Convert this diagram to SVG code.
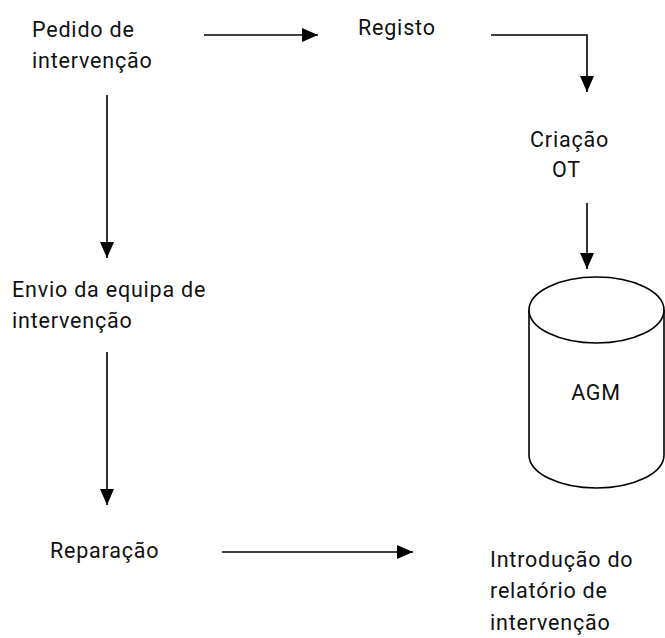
<svg xmlns="http://www.w3.org/2000/svg" width="665" height="638" viewBox="0 0 665 638">
<style>
text{font-family:Roboto,"Liberation Sans",sans-serif;font-size:21.5px;letter-spacing:0.8px;fill:#111}
.c{fill:none;stroke:#000;stroke-width:1.6}
.n{fill:#fff;stroke:#000;stroke-width:1.6}
</style>
<defs>
<marker id="a" viewBox="0 0 16 14" refX="16" refY="7" markerWidth="16" markerHeight="14" markerUnits="userSpaceOnUse" orient="auto">
<path d="M0,0 L16,7 L0,14 Z" fill="#000"/>
</marker>
</defs>
<rect width="665" height="638" fill="#fff"/>
<g id="connectors">
<line class="c" x1="204" y1="35" x2="318" y2="35" marker-end="url(#a)"/>
<polyline class="c" points="491,35 587,35 587,92" marker-end="url(#a)"/>
<line class="c" x1="587" y1="203" x2="587" y2="269" marker-end="url(#a)"/>
<line class="c" x1="107" y1="95" x2="107" y2="258" marker-end="url(#a)"/>
<line class="c" x1="107" y1="352" x2="107" y2="505" marker-end="url(#a)"/>
<line class="c" x1="222" y1="552" x2="413" y2="552" marker-end="url(#a)"/>
</g>
<g id="pedido"><text x="32" y="37">Pedido de</text><text x="32" y="68">intervenção</text></g>
<g id="registo"><text x="358" y="35">Registo</text></g>
<g id="criacao"><text x="530" y="147">Criação</text><text x="552" y="177">OT</text></g>
<g id="agm">
<path class="n" d="M529,310 L529,455 A67.5,33 0 0 0 664,455 L664,310"/>
<ellipse class="n" cx="596.5" cy="310" rx="67.5" ry="33"/>
<text x="596" y="400" text-anchor="middle">AGM</text>
</g>
<g id="envio"><text x="12" y="297">Envio da equipa de</text><text x="12" y="328">intervenção</text></g>
<g id="reparacao"><text x="50" y="558">Reparação</text></g>
<g id="introducao"><text x="490" y="567">Introdução do</text><text x="490" y="598">relatório de</text><text x="490" y="630">intervenção</text></g>
</svg>
